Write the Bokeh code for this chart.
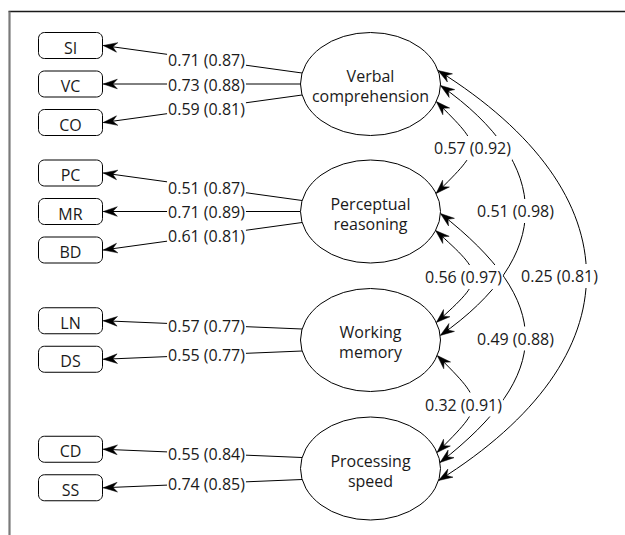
import numpy as np
from bokeh.plotting import figure
from bokeh.models import Range1d
from bokeh.core.properties import value
from bokeh.embed import file_html
from bokeh.resources import INLINE

# ---------------- data ----------------
factors = ["Verbal\ncomprehension", "Perceptual\nreasoning", "Working\nmemory", "Processing\nspeed"]
indicators = [["SI", "VC", "CO"], ["PC", "MR", "BD"], ["LN", "DS"], ["CD", "SS"]]
load_unstd = [[0.71, 0.73, 0.59], [0.51, 0.71, 0.61], [0.57, 0.55], [0.55, 0.74]]
load_std = [[0.87, 0.88, 0.81], [0.87, 0.89, 0.81], [0.77, 0.77], [0.84, 0.85]]
corr_from = [0, 0, 0, 1, 1, 2]
corr_to = [1, 2, 3, 2, 3, 3]
corr_unstd = [0.57, 0.51, 0.25, 0.56, 0.49, 0.32]
corr_std = [0.92, 0.98, 0.81, 0.97, 0.88, 0.91]

# ---------------- layout (page pixels) ----------------
W, H = 625, 535
FX = 370
FY = [83.5, 211, 339.5, 468]
EW, EH = 140, 103
BX, BW, BH, BR = 70, 64, 26, 6
BSP = 38.5
LBL_X = 206
FONT = value("Open Sans")
FS = "16px"
TXT = "#1a1a1a"
# per correlation: start dy, end dy, peak x, angle, label dx
corr_layout = [
    (17.5, -18, 471, 45, 1),
    (1.5, -4.5, 525, 35, -10),
    (-13.5, 12, 586, 32, -27),
    (19, -17.5, 473, 42, -10),
    (2, -6, 525, 38, -10),
    (15.5, -16, 473, 45, -10),
]
AL, AW, AN = 14, 4.8, 9.5

p = figure(width=W, height=H, output_backend="svg", toolbar_location=None,
           x_range=Range1d(0, W), y_range=Range1d(H, 0), min_border=0)
p.axis.visible = False
p.grid.visible = False
p.outline_line_color = None
p.background_fill_color = "white"
p.border_fill_color = "white"

# frame lines
p.segment(x0=[8], y0=[11], x1=[W], y1=[11], line_color="#1a1a1a", line_width=1.4)
p.segment(x0=[9], y0=[11], x1=[9], y1=[H], line_color="#7a7a7a", line_width=2.2)


def head(tip, d):
    d = np.asarray(d, float)
    d = d / np.hypot(*d)
    n = np.array([-d[1], d[0]])
    t = np.asarray(tip, float)
    pts = [t, t - AL * d + AW * n, t - AN * d, t - AL * d - AW * n]
    return [q[0] for q in pts], [q[1] for q in pts]


def ell_x(dy, side):
    return FX + side * EW / 2 * np.sqrt(1 - (dy / (EH / 2)) ** 2)


head_xs, head_ys = [], []
line_x0, line_y0, line_x1, line_y1 = [], [], [], []
lab_x, lab_y, lab_t = [], [], []
box_xs, box_ys, box_tx, box_ty, box_t = [], [], [], [], []

for fi, inds in enumerate(indicators):
    n = len(inds)
    s = 22.0 / (n - 1)
    for k, name in enumerate(inds):
        by = FY[fi] + (k - (n - 1) / 2) * BSP
        ang = np.linspace(0, np.pi / 2, 8)
        l, r, t, b = BX - BW / 2, BX + BW / 2, by - BH / 2, by + BH / 2
        xs = np.concatenate([r - BR + BR * np.sin(ang), r - BR + BR * np.cos(ang),
                             l + BR - BR * np.sin(ang), l + BR - BR * np.cos(ang)])
        ys = np.concatenate([t + BR - BR * np.cos(ang), b - BR + BR * np.sin(ang),
                             b - BR + BR * np.cos(ang), t + BR - BR * np.sin(ang)])
        box_xs.append(list(xs)); box_ys.append(list(ys))
        box_tx.append(BX); box_ty.append(by + 2.2); box_t.append(name)
        dy = (k - (n - 1) / 2) * s
        sx, sy = ell_x(dy, -1), FY[fi] + dy
        tx, ty = r + 0.8, by
        line_x0.append(sx); line_y0.append(sy); line_x1.append(tx); line_y1.append(ty)
        hx, hy = head((tx, ty), (tx - sx, ty - sy))
        head_xs.append(hx); head_ys.append(hy)
        fr = (LBL_X - tx) / (sx - tx)
        lab_x.append(LBL_X); lab_y.append(ty + fr * (sy - ty) + 0.5)
        lab_t.append(f"{load_unstd[fi][k]:.2f} ({load_std[fi][k]:.2f})")

p.patches(box_xs, box_ys, fill_color="white", line_color="black", line_width=1)
p.segment(x0=line_x0, y0=line_y0, x1=line_x1, y1=line_y1, line_color="black", line_width=1)

bx0, by0, bx1, by1, bcx0, bcy0, bcx1, bcy1 = ([] for _ in range(8))
for c in range(len(corr_from)):
    a, b = corr_from[c], corr_to[c]
    dys, dye, peak, angd, ldx = corr_layout[c]
    P0 = np.array([ell_x(dys, 1), FY[a] + dys])
    P3 = np.array([ell_x(dye, 1), FY[b] + dye])
    th = np.radians(angd)
    kk = (peak - (P0[0] + P3[0]) / 2) / (0.75 * np.cos(th))
    P1 = P0 + kk * np.array([np.cos(th), np.sin(th)])
    P2 = P3 + kk * np.array([np.cos(th), -np.sin(th)])
    bx0.append(P0[0]); by0.append(P0[1]); bx1.append(P3[0]); by1.append(P3[1])
    bcx0.append(P1[0]); bcy0.append(P1[1]); bcx1.append(P2[0]); bcy1.append(P2[1])
    for tip, ctrl in ((P0, P1), (P3, P2)):
        hx, hy = head(tip, tip - ctrl)
        head_xs.append(hx); head_ys.append(hy)
    mid = (P0 + 3 * P1 + 3 * P2 + P3) / 8
    lab_x.append(mid[0] + ldx); lab_y.append(mid[1] + 0.5)
    lab_t.append(f"{corr_unstd[c]:.2f} ({corr_std[c]:.2f})")

p.bezier(x0=bx0, y0=by0, x1=bx1, y1=by1, cx0=bcx0, cy0=bcy0, cx1=bcx1, cy1=bcy1,
         line_color="black", line_width=1)

p.patches(head_xs, head_ys, fill_color="black", line_color="black", line_width=0.5)

p.ellipse(x=[FX] * 4, y=FY, width=EW, height=EH, width_units="screen", height_units="screen",
          fill_color="white", line_color="black", line_width=1)

f1 = [f.split("\n")[0] for f in factors]
f2 = [f.split("\n")[1] for f in factors]
p.text(x=[FX] * 4, y=[y - 7.6 for y in FY], text=f1, text_align="center", text_baseline="middle",
       text_font=FONT, text_font_size=FS, text_color=TXT)
p.text(x=[FX] * 4, y=[y + 12.4 for y in FY], text=f2, text_align="center", text_baseline="middle",
       text_font=FONT, text_font_size=FS, text_color=TXT)
p.text(x=box_tx, y=box_ty, text=box_t, text_align="center", text_baseline="middle",
       text_font=FONT, text_font_size=FS, text_color=TXT)
p.text(x=lab_x, y=lab_y, text=lab_t, text_align="center", text_baseline="middle",
       text_font=FONT, text_font_size=FS, text_color=TXT,
       background_fill_color="white", padding=1)

open("out.html", "w").write(file_html(p, INLINE))
